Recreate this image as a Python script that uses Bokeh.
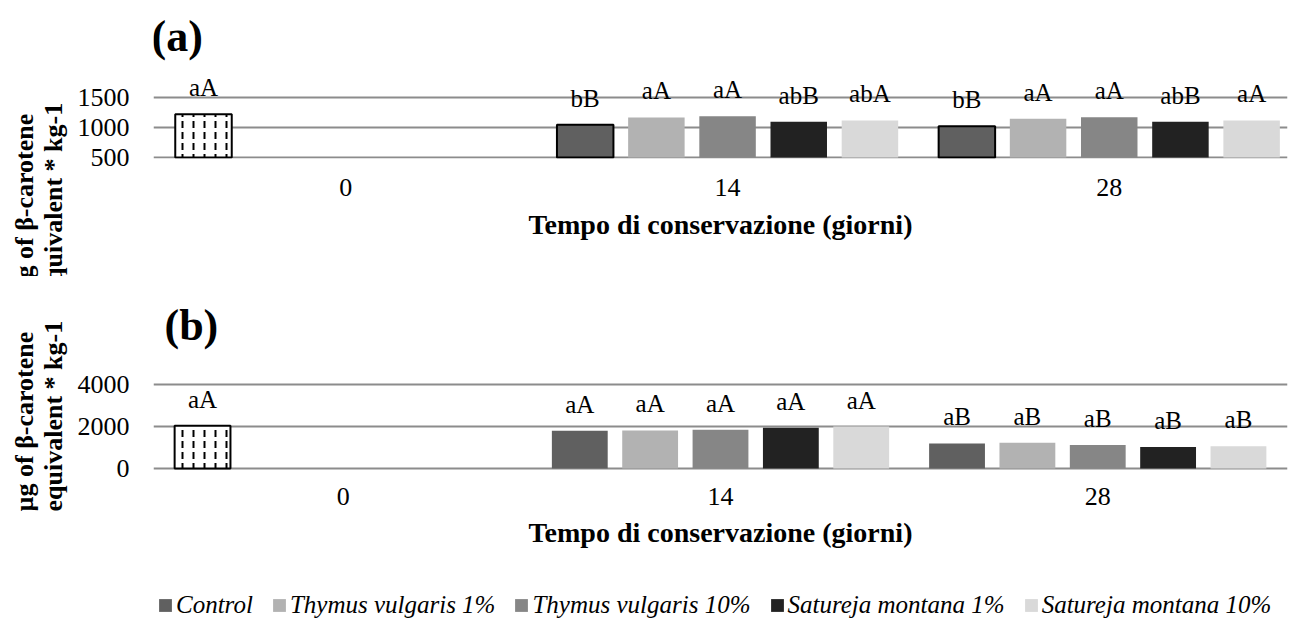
from bokeh.plotting import figure
from bokeh.models import (ColumnDataSource, Range1d, FixedTicker, Label, LabelSet,
                          Legend, LegendItem, Title)
from bokeh.layouts import column
from bokeh.core.properties import value
from bokeh.embed import file_html
from bokeh.resources import INLINE

# ---------------- data ----------------
days = ["0", "14", "28"]
series = ["Control", "Thymus vulgaris 1%", "Thymus vulgaris 10%",
          "Satureja montana 1%", "Satureja montana 10%"]
colors = ["#606060", "#b2b2b2", "#868686", "#222222", "#d9d9d9"]

a_t0_value = 1222
a_t0_label = "aA"
a_day14 = [1045, 1167, 1189, 1094, 1117]
a_day28 = [1022, 1144, 1172, 1094, 1117]
a_day14_labels = ["bB", "aA", "aA", "abB", "abA"]
a_day28_labels = ["bB", "aA", "aA", "abB", "aA"]
a_ticks = [500, 1000, 1500]

b_t0_value = 2030
b_t0_label = "aA"
b_day14 = [1795, 1810, 1845, 1940, 2000]
b_day28 = [1196, 1229, 1120, 1025, 1054]
b_day14_labels = ["aA", "aA", "aA", "aA", "aA"]
b_day28_labels = ["aB", "aB", "aB", "aB", "aB"]
b_ticks = [0, 2000, 4000]

y_title = "µg of β-carotene\nequivalent * kg-1"
x_title = "Tempo di conservazione (giorni)"

# ---------------- layout ----------------
FONT = "Liberation Serif"
W = 1296
FL = 152           # frame left (page px)
FW = 1135          # frame width
FR = W - FL - FW
SLOT = 0.1865
BAR_W = 0.148
GRID = "#8c8c8c"

A_H = 276
B_H = 575 - A_H
C_H = 623 - A_H - B_H


def panel(H, top0, FH, XR, YR, yticks, base, t0_value, t0_label, v14, v28, l14, l28,
          ctrl_outline, heading, head_x, head_y, title_offset,
          tick_standoff, title_standoff):
    # the frame starts at the top of this figure (page y = top0) and is FH px tall
    p = figure(width=W, height=H, x_range=Range1d(*XR), y_range=Range1d(*YR),
               output_backend="svg", toolbar_location=None,
               min_border_left=FL, min_border_right=FR,
               min_border_top=0, min_border_bottom=H - FH)
    p.outline_line_color = None
    p.background_fill_color = "white"
    p.border_fill_color = "white"

    def gx(px):
        return XR[0] + (px - FL) / FW * (XR[1] - XR[0])

    def gy(py):
        return YR[1] - (py - top0) / FH * (YR[1] - YR[0])

    p.yaxis.ticker = FixedTicker(ticks=yticks)
    p.yaxis.axis_line_color = None
    p.yaxis.major_tick_line_color = None
    p.yaxis.minor_tick_line_color = None
    p.yaxis.major_tick_out = 0
    p.yaxis.major_tick_in = 0
    p.yaxis.minor_tick_out = 0
    p.yaxis.major_label_standoff = 24
    p.yaxis.major_label_text_font = FONT
    p.yaxis.major_label_text_font_size = "26px"
    p.yaxis.major_label_text_color = "black"

    p.xaxis.ticker = FixedTicker(ticks=[0, 1, 2])
    p.xaxis.major_label_overrides = {i: d for i, d in enumerate(days)}
    p.xaxis.axis_line_color = None
    p.xaxis.major_tick_line_color = None
    p.xaxis.minor_tick_line_color = None
    p.xaxis.major_label_standoff = tick_standoff
    p.xaxis.major_label_text_font = FONT
    p.xaxis.major_label_text_font_size = "26px"
    p.xaxis.major_label_text_color = "black"
    p.xaxis.axis_label = x_title
    p.xaxis.axis_label_standoff = title_standoff
    p.xaxis.axis_label_text_font = FONT
    p.xaxis.axis_label_text_font_size = "28px"
    p.xaxis.axis_label_text_font_style = "bold"
    p.xaxis.axis_label_text_color = "black"

    p.xgrid.visible = False
    p.ygrid.ticker = FixedTicker(ticks=yticks)
    p.ygrid.grid_line_color = GRID
    p.ygrid.grid_line_width = 2

    lab_kw = dict(y_offset=18, text_align="center", text_baseline="alphabetic",
                  text_font=value(FONT), text_font_size=value("25px"), text_color="black")

    src0 = ColumnDataSource(dict(x=[0 - 2 * SLOT], top=[t0_value], label=[t0_label]))
    p.vbar(x="x", top="top", bottom=base, width=BAR_W, source=src0,
           fill_color="white", line_color="black", line_width=2,
           hatch_pattern="vertical_dash", hatch_color="black",
           hatch_scale=11, hatch_weight=2)
    p.add_layout(LabelSet(x="x", y="top", text="label", source=src0, **lab_kw))

    for i, name in enumerate(series):
        off = (i - 2) * SLOT
        src = ColumnDataSource(dict(x=[1 + off, 2 + off], top=[v14[i], v28[i]],
                                    label=[l14[i], l28[i]]))
        outline = "black" if (i == 0 and ctrl_outline) else None
        p.vbar(x="x", top="top", bottom=base, width=BAR_W, source=src,
               fill_color=colors[i], line_color=outline, line_width=2)
        p.add_layout(LabelSet(x="x", y="top", text="label", source=src, **lab_kw))

    p.add_layout(Label(x=gx(head_x), y=gy(head_y), text=heading,
                       text_font=FONT, text_font_size="44px", text_font_style="bold",
                       text_align="left", text_baseline="middle", text_color="black"))

    p.add_layout(Title(text=y_title, align="left", vertical_align="bottom",
                       offset=title_offset, standoff=14,
                       text_font=FONT, text_font_size="26px", text_font_style="bold",
                       text_color="black", text_line_height=1.0), "left")
    return p


# panel (a): frame spans page y 0..158 ; 500 -> y 157, 1500 -> y 97
A_FH = 158
a_y = (1500 - (A_FH - 97) / 0.06, 1500 + 97 / 0.06)
pa = panel(A_H, 0, A_FH, (-0.504, 2.467), a_y, a_ticks, 500,
           a_t0_value, a_t0_label, a_day14, a_day28, a_day14_labels, a_day28_labels,
           True, "(a)", 150, 36, A_FH - 293, 14, 10)

# panel (b): frame spans page y A_H..470 ; 0 -> y 468, 4000 -> y 384
B_FH = 470 - A_H
b_y = (-(470 - 468) / 0.021, (468 - A_H) / 0.021)
pb = panel(B_H, A_H, B_FH, (-0.503, 2.503), b_y, b_ticks, 0,
           b_t0_value, b_t0_label, b_day14, b_day28, b_day14_labels, b_day28_labels,
           False, "(b)", 163, 325, 470 - 511, 11, 9)

# legend strip
pc = figure(width=W, height=C_H, x_range=Range1d(0, 1), y_range=Range1d(0, 1),
            output_backend="svg", toolbar_location=None,
            x_axis_location=None, y_axis_location=None,
            min_border_left=FL, min_border_right=FR, min_border_top=0, min_border_bottom=0)
pc.outline_line_color = None
pc.xgrid.visible = False
pc.ygrid.visible = False
items = []
for i, name in enumerate(series):
    src = ColumnDataSource(dict(x=[1], top=[b_day14[i]]))
    r = pc.vbar(x="x", top="top", width=0.1, source=src,
                fill_color=colors[i], line_color=None, visible=False)
    items.append(LegendItem(label=name, renderers=[r]))
leg = Legend(items=items, orientation="horizontal", location="bottom_left",
             label_text_font=FONT, label_text_font_style="italic",
             label_text_font_size="25px", label_text_color="black",
             glyph_width=16, glyph_height=16, label_standoff=3, spacing=18,
             padding=0, margin=4, border_line_color=None, background_fill_alpha=0,
             inactive_fill_alpha=0)
pc.add_layout(leg, "center")

layout = column(pa, pb, pc)
open("out.html", "w").write(file_html(layout, INLINE))
